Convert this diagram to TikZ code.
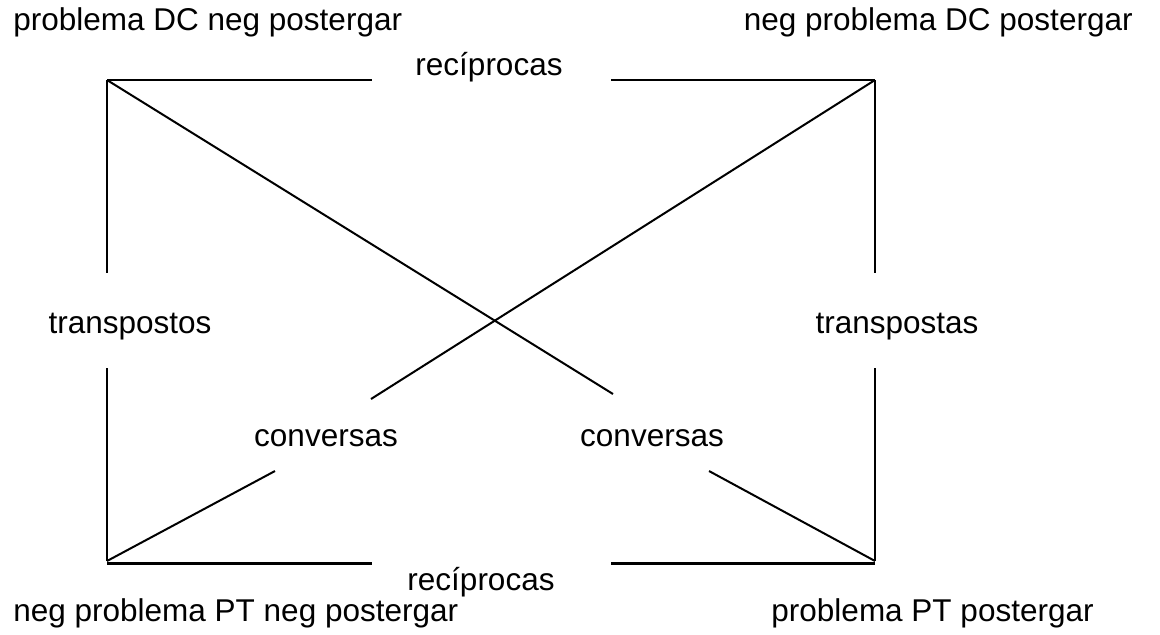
\documentclass[tikz,border=0pt]{standalone}
\usepackage{fontspec}
\setmainfont{Liberation Sans}
\usetikzlibrary{positioning}
\tikzset{
	lbl/.style={font=\fontsize{15.75}{18}\selectfont, inner sep=0pt, anchor=base},
	cornerlbl/.style={font=\fontsize{15.75}{18}\selectfont, inner sep=0pt},
	edge/.style={color=black, line width=1pt},
	thickedge/.style={color=black, line width=1.5pt}
}

\begin{document}
\begin{tikzpicture}[x=0.5pt,y=-0.5pt]
	\useasboundingbox (0,0) rectangle (1160,634);

	%%corners of the square
	\coordinate (tl) at (107,80);
	\coordinate (tr) at (875,80);
	\coordinate (bl) at (107,561);
	\coordinate (br) at (875,561);

	%%corner labels
	\node[cornerlbl,anchor=base west] (dcneg) at (13,30) {problema DC neg postergar};
	\node[cornerlbl,anchor=base east] (negdc) at (1133,30) {neg problema DC postergar};
	\node[cornerlbl,anchor=base west] (negptneg) at (13,621) {neg problema PT neg postergar};
	\node[cornerlbl,anchor=base east] (pt) at (1094,621) {problema PT postergar};

	%%relation labels
	\node[lbl] (rectop) at (489,75) {recíprocas};
	\node[lbl] (recbot) at (481,590) {recíprocas};
	\node[lbl] (transl) at (130,333) {transpostos};
	\node[lbl] (transr) at (897,333) {transpostas};
	\node[lbl] (convl) at (326,446) {conversas};
	\node[lbl] (convr) at (652,446) {conversas};

	%%free ends of the broken lines
	\coordinate (rt1) at (372,80);
	\coordinate (rt2) at (611,80);
	\coordinate (bl0) at (107,563);
	\coordinate (br0) at (875,563);
	\coordinate (rb1) at (372,563);
	\coordinate (rb2) at (611,563);
	\coordinate (tl1) at (107,273);
	\coordinate (tl2) at (107,368);
	\coordinate (tr1) at (875,273);
	\coordinate (tr2) at (875,368);
	\coordinate (cr1) at (613,394);
	\coordinate (cl1) at (371,399);
	\coordinate (cl2) at (275,471);
	\coordinate (cr2) at (709,471);

	%%%%%% EDGES
	%reciprocas
	\draw[edge] (tl) -- (rt1);
	\draw[edge] (rt2) -- (tr);
	\draw[thickedge] (bl0) -- (rb1);
	\draw[thickedge] (rb2) -- (br0);
	%transpostos
	\draw[edge] (tl) -- (tl1);
	\draw[edge] (tl2) -- (bl);
	\draw[edge] (tr) -- (tr1);
	\draw[edge] (tr2) -- (br);
	%conversas
	\draw[edge] (tl) -- (cr1);
	\draw[edge] (cr2) -- (br);
	\draw[edge] (tr) -- (cl1);
	\draw[edge] (cl2) -- (bl);

\end{tikzpicture}
\end{document}
